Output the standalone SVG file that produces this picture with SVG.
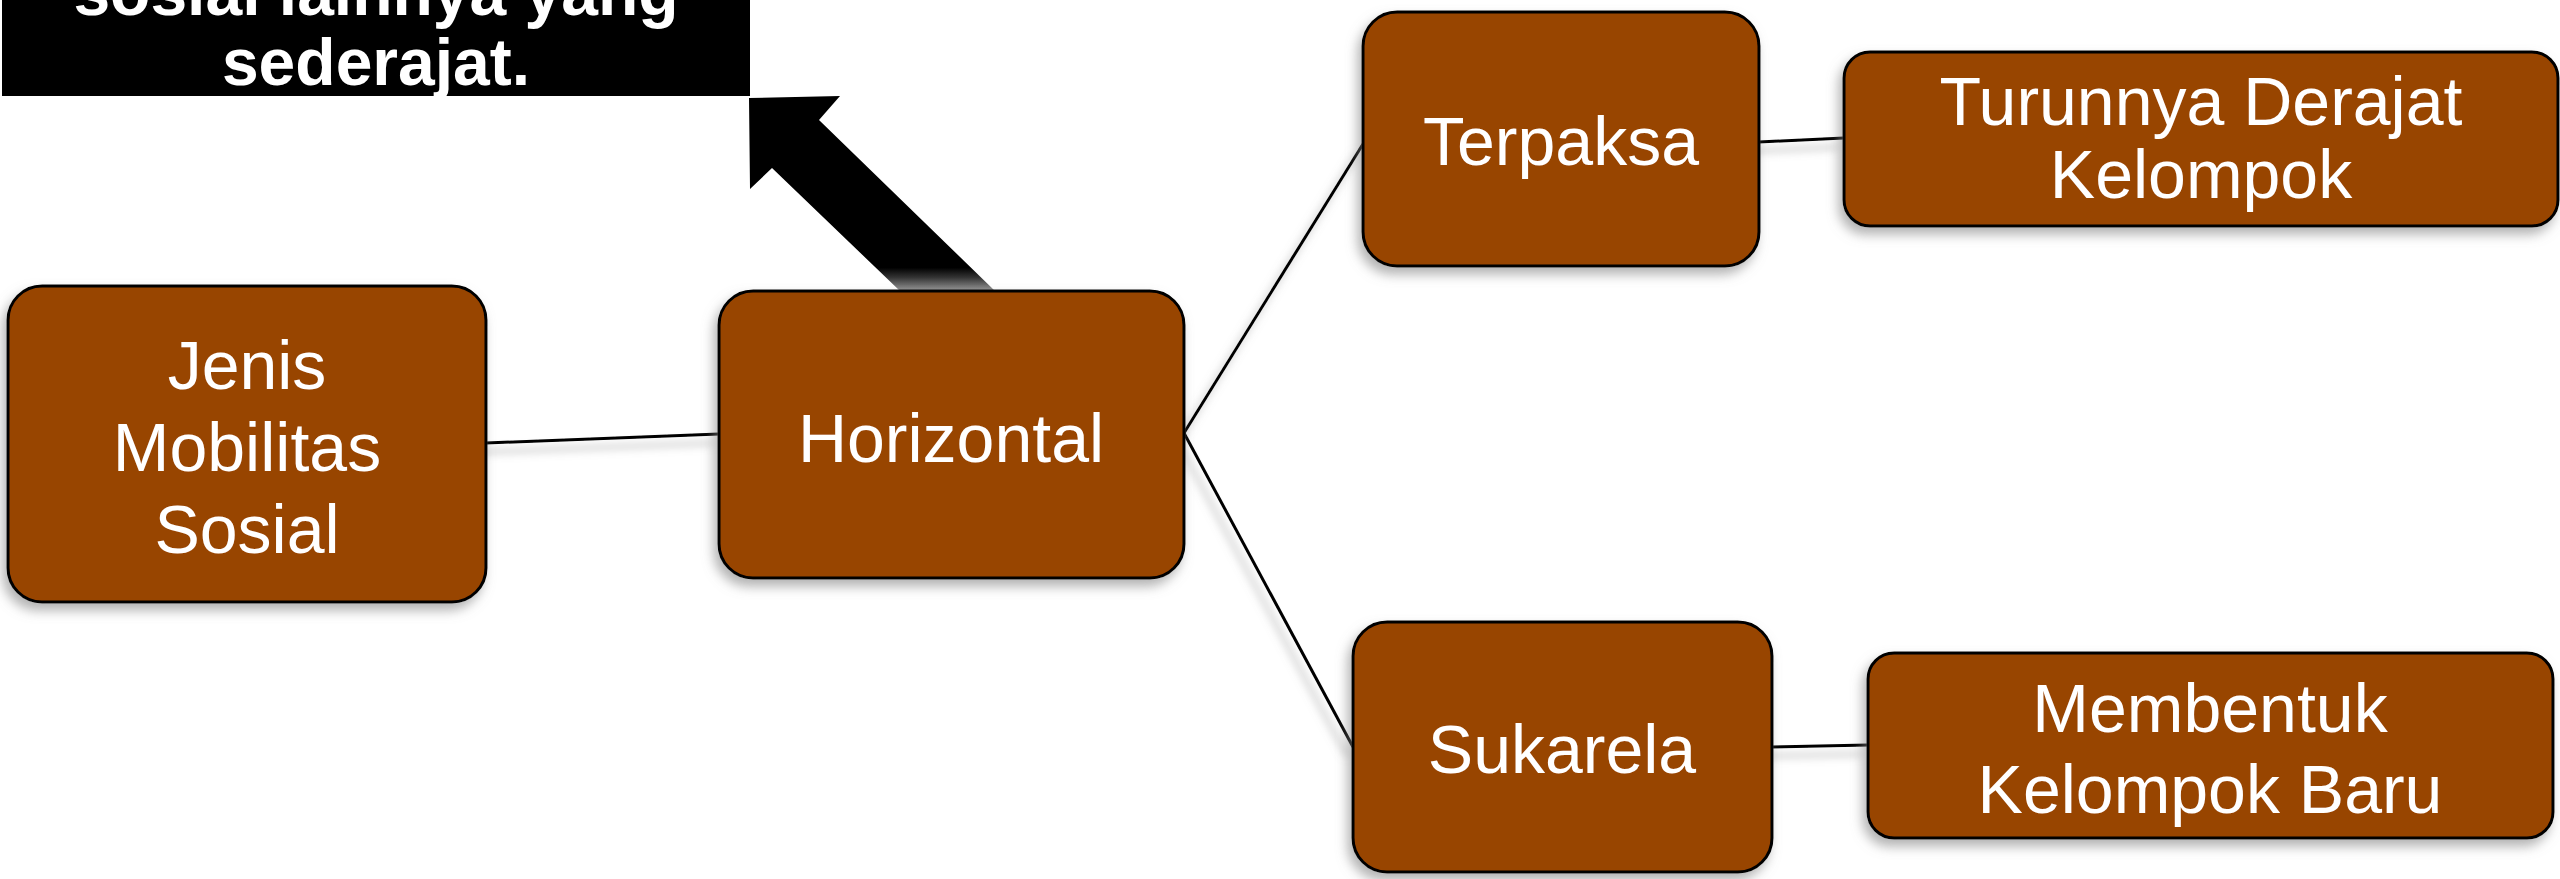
<svg xmlns="http://www.w3.org/2000/svg" width="2560" height="879" viewBox="0 0 2560 879">
  <style>
    .node rect { fill: #984406; stroke: #000; stroke-width: 3; }
    .node text { fill: #fff; font-family: "Liberation Sans", Arial, sans-serif; font-size: 68px; text-anchor: middle; }
    .conn line { stroke: #000; stroke-width: 3; fill: none; }
    .note text { fill: #fff; font-family: "Liberation Sans", Arial, sans-serif; font-size: 66px; font-weight: bold; text-anchor: middle; }
  </style>
  <defs>
    <filter id="nshadow" x="-20%" y="-20%" width="140%" height="150%">
      <feDropShadow dx="-4" dy="7" stdDeviation="6" flood-color="#808080" flood-opacity="0.6"/>
    </filter>
    <filter id="lshadow" x="-20%" y="-50%" width="140%" height="200%">
      <feDropShadow dx="-6" dy="9" stdDeviation="4" flood-color="#808080" flood-opacity="0.6"/>
    </filter>
    <linearGradient id="shaft" gradientUnits="userSpaceOnUse" x1="0" y1="96" x2="0" y2="291">
      <stop offset="0" stop-color="#000"/>
      <stop offset="0.88" stop-color="#000"/>
      <stop offset="0.93" stop-color="#333"/>
      <stop offset="1" stop-color="#999"/>
    </linearGradient>
  </defs>
  <rect width="2560" height="879" fill="#fff"/>

  <g id="note" class="note">
    <rect x="2" y="-2" width="748" height="98" fill="#000"/>
    <text x="376" y="15">sosial lainnya yang</text>
    <text x="376" y="85">sederajat.</text>
  </g>

  <g id="arrow">
    <polygon points="749,98 840,96 819,120 995,291 900,291 772,168 750,189" fill="url(#shaft)"/>
  </g>

  <g id="connectors" class="conn" filter="url(#lshadow)">
    <line x1="486" y1="443" x2="719" y2="434"/>
    <line x1="1184" y1="433" x2="1363" y2="144"/>
    <line x1="1184" y1="433" x2="1353" y2="747"/>
    <line x1="1759" y1="142" x2="1844" y2="138"/>
    <line x1="1772" y1="747" x2="1868" y2="745"/>
  </g>

  <g id="node-jenis" class="node" filter="url(#nshadow)">
    <rect x="8" y="286" width="478" height="316" rx="34"/>
    <text x="247" y="389">Jenis</text>
    <text x="247" y="471">Mobilitas</text>
    <text x="247" y="553">Sosial</text>
  </g>

  <g id="node-horizontal" class="node" filter="url(#nshadow)">
    <rect x="719" y="291" width="465" height="287" rx="34"/>
    <text x="951" y="462">Horizontal</text>
  </g>

  <g id="node-terpaksa" class="node" filter="url(#nshadow)">
    <rect x="1363" y="12" width="396" height="254" rx="34"/>
    <text x="1561" y="165">Terpaksa</text>
  </g>

  <g id="node-turunnya" class="node" filter="url(#nshadow)">
    <rect x="1844" y="52" width="714" height="174" rx="26"/>
    <text x="2201" y="125">Turunnya Derajat</text>
    <text x="2201" y="198">Kelompok</text>
  </g>

  <g id="node-sukarela" class="node" filter="url(#nshadow)">
    <rect x="1353" y="622" width="419" height="250" rx="34"/>
    <text x="1562" y="773">Sukarela</text>
  </g>

  <g id="node-membentuk" class="node" filter="url(#nshadow)">
    <rect x="1868" y="653" width="685" height="185" rx="26"/>
    <text x="2210" y="732">Membentuk</text>
    <text x="2210" y="813">Kelompok Baru</text>
  </g>
</svg>
